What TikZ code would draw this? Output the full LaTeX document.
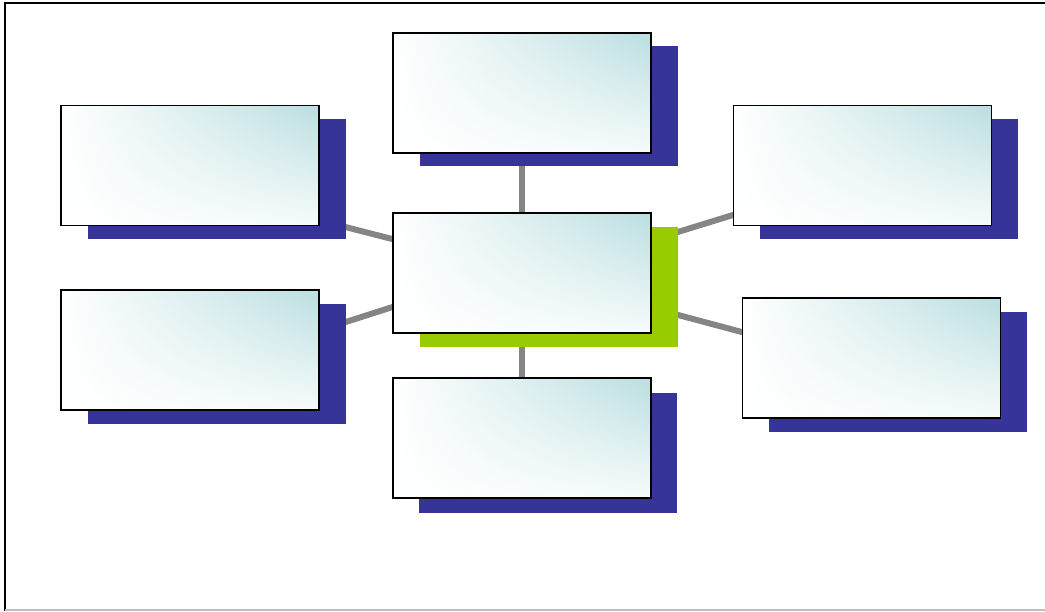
\documentclass[tikz,border=0pt]{standalone}
\usetikzlibrary{calc,backgrounds,shadings}
\definecolor{shadowblue}{HTML}{363399}
\definecolor{shadowgreen}{HTML}{99CC00}
\definecolor{tealtop}{HTML}{BADEE0}
\definecolor{tealbot}{HTML}{F6FBFB}
\definecolor{linkgray}{HTML}{858585}
\tikzset{
  box/.style={rectangle, draw=black, line width=1.8pt, minimum width=258pt, minimum height=120pt,
    inner sep=0pt, upper left=white, lower left=white, upper right=tealtop, lower right=tealbot},
  shadowbox/.style={rectangle, fill=shadowblue, minimum width=258pt, minimum height=120pt, inner sep=0pt},
  greenbox/.style={shadowbox, fill=shadowgreen},
  link/.style={draw=linkgray, line width=6pt}
}
\begin{document}
\begin{tikzpicture}[x=1pt,y=-1pt]
\useasboundingbox (0,0) rectangle (1045,611);
% frame
\draw[black, line width=2pt] (5,611) -- (5,2.5) -- (1045,2.5);
\draw[gray!50, line width=1.2pt] (5,610) -- (1045,610);
% shadows
\node[shadowbox] (ts)  at (549,106) {};
\node[shadowbox] (lts) at (217,179) {};
\node[shadowbox] (rts) at (889,179) {};
\node[greenbox]  (cs)  at (549,287) {};
\node[shadowbox] (lbs) at (217,363.5) {};
\node[shadowbox] (bs)  at (548,452.5) {};
\node[shadowbox] (rbs) at (898,372) {};
% boxes
\node[box] (t)  at (522,93) {};
\node[box] (lt) at (190,165.5) {};
\node[box] (rt) at (862.5,165.5) {};
\node[box] (c)  at (522,273) {};
\node[box] (lb) at (190,350) {};
\node[box] (b)  at (522,438) {};
\node[box] (rb) at (871.5,358) {};
% connectors
\begin{pgfonlayer}{background}
\draw[link] (t.south) -- (c.north);
\draw[link] (c.south) -- (b.north);
\draw[link] ($(lts.south east)+(-2,-12.5)$) -- ($(c.west)+(2,-33.5)$);
\draw[link] ($(lbs.east)+(-2,-41)$) -- ($(c.west)+(2,33.5)$);
\draw[link] ($(cs.east)+(-2,-54.5)$) -- ($(rt.west)+(2,49)$);
\draw[link] ($(cs.east)+(-2,27.5)$) -- ($(rb.west)+(2,-25.5)$);
\end{pgfonlayer}
\end{tikzpicture}
\end{document}
